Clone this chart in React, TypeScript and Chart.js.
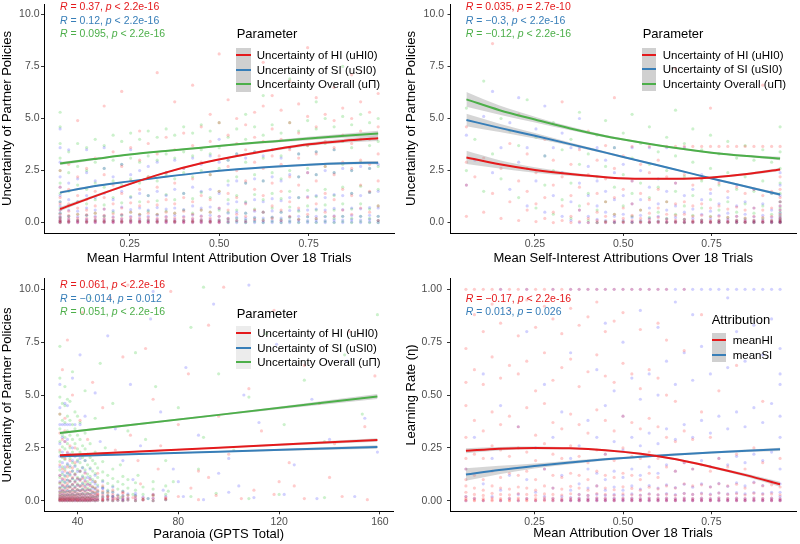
import React, { useEffect, useRef } from "react";
import { Chart, registerables } from "chart.js";
Chart.register(...registerables);

const FONT = '"Liberation Sans", Arial, Helvetica, sans-serif';
const RED = "#E41A1C";
const BLUE = "#377EB8";
const GREEN = "#4DAF4A";
const PT_RED = "rgba(255,0,0,0.2)";
const PT_BLUE = "rgba(0,0,255,0.18)";
const PT_GREEN = "rgba(0,185,0,0.2)";

// ---------- shared x columns (mean attribution over 18 trials) ----------
const attrCols = [0.056, 0.080, 0.105, 0.130, 0.154, 0.179, 0.204, 0.228, 0.253, 0.278, 0.302, 0.327, 0.352, 0.376, 0.401, 0.426, 0.450, 0.475, 0.500, 0.525, 0.549, 0.574, 0.599, 0.623, 0.648, 0.673, 0.697, 0.722, 0.747, 0.771, 0.796, 0.821, 0.845, 0.870, 0.895, 0.920, 0.944];
const fitX = [0.056, 0.15, 0.25, 0.35, 0.45, 0.55, 0.65, 0.75, 0.85, 0.944];

const paramLabels = ["Uncertainty of HI (uHI0)", "Uncertainty of SI (uSI0)", "Uncertainty Overall (uΠ)"];
const attrLabels = ["meanHI", "meanSI"];
const attrTicks = [0.25, 0.5, 0.75];
const attrTickLabels = ["0.25", "0.50", "0.75"];
const uncTicks = [0, 2.5, 5, 7.5, 10];
const uncTickLabels = ["0.0", "2.5", "5.0", "7.5", "10.0"];
const lrTicks = [0, 0.25, 0.5, 0.75, 1];
const lrTickLabels = ["0.00", "0.25", "0.50", "0.75", "1.00"];
const gptsTicks = [40, 80, 120, 160];
const gptsTickLabels = ["40", "80", "120", "160"];

// ---------- Panel 1: harmful intent ----------
const p1FitHI = [0.65, 1.25, 1.85, 2.4, 2.85, 3.2, 3.5, 3.76, 3.93, 4.05];
const p1FitSI = [1.44, 1.75, 1.98, 2.2, 2.4, 2.56, 2.68, 2.78, 2.85, 2.88];
const p1FitAll = [2.84, 3.05, 3.27, 3.44, 3.6, 3.76, 3.9, 4.04, 4.17, 4.28];
const p1SeHI = [0.1, 0.06, 0.05, 0.04, 0.04, 0.05, 0.06, 0.08, 0.1, 0.13];
const p1SeSI = [0.06, 0.04, 0.03, 0.03, 0.03, 0.03, 0.04, 0.05, 0.06, 0.08];
const p1SeAll = [0.07, 0.05, 0.04, 0.04, 0.04, 0.05, 0.06, 0.08, 0.1, 0.13];
const p1Stats = [["0.37", "< 2.2e-16"], ["0.12", "< 2.2e-16"], ["0.095", "< 2.2e-16"]];
const p1PtsHI = [
  [0, 0.04, 0.08, 0.15, 0.25, 0.4, 0.6, 0.9, 1.2, 1.7, 2.5],
  [0, 0.05, 0.1, 0.2, 0.35, 0.55, 0.9, 1.6, 2.8],
  [0, 0.05, 0.12, 0.22, 0.4, 0.7, 1.3, 2.2, 4.9],
  [0, 0.04, 0.1, 0.2, 0.38, 0.6, 1.1, 2.6],
  [0, 0.06, 0.12, 0.25, 0.45, 0.8, 1.5, 3.1],
  [0, 0.05, 0.1, 0.2, 0.35, 0.65, 1.2, 2.3, 5.6],
  [0, 0.04, 0.11, 0.24, 0.42, 0.9, 1.8, 3.4],
  [0, 0.05, 0.1, 0.2, 0.4, 0.7, 1.4, 2.7, 6.3],
  [0, 0.06, 0.13, 0.25, 0.5, 0.95, 2.0, 3.6],
  [0, 0.05, 0.1, 0.22, 0.4, 0.8, 1.6, 3.0, 4.4],
  [0, 0.04, 0.12, 0.24, 0.45, 1.0, 2.2, 3.8],
  [0, 0.05, 0.1, 0.2, 0.4, 0.85, 1.7, 3.3, 7.2],
  [0, 0.06, 0.12, 0.26, 0.5, 1.1, 2.4, 4.1],
  [0, 0.05, 0.1, 0.22, 0.45, 0.9, 1.9, 3.5, 5.8],
  [0, 0.04, 0.11, 0.25, 0.55, 1.2, 2.6, 4.3],
  [0, 0.05, 0.1, 0.2, 0.4, 1.0, 2.1, 3.7, 6.6],
  [0, 0.06, 0.14, 0.3, 0.6, 1.3, 2.9, 4.6],
  [0, 0.05, 0.1, 0.22, 0.5, 1.1, 2.3, 3.9, 5.2],
  [0, 0.04, 0.12, 0.3, 0.7, 1.5, 3.2, 4.8, 8.1],
  [0.05, 0.2, 0.6, 1.4, 2.7, 4.2, 5.9],
  [0.1, 0.4, 1.2, 2.5, 3.8, 5.0],
  [0.05, 0.3, 0.9, 2.0, 3.5, 4.7, 6.4],
  [0.15, 0.6, 1.6, 2.9, 4.1, 5.3],
  [0.1, 0.5, 1.3, 2.6, 3.9, 5.6, 7.7],
  [0.2, 0.8, 1.9, 3.2, 4.5, 6.1],
  [0.1, 0.6, 1.5, 2.8, 4.0, 5.4],
  [0.3, 1.0, 2.2, 3.5, 4.8, 6.8],
  [0.15, 0.7, 1.8, 3.1, 4.3, 5.7],
  [0.4, 1.2, 2.4, 3.7, 5.1, 8.4],
  [0.2, 0.9, 2.0, 3.3, 4.6, 6.0],
  [0.5, 1.4, 2.7, 3.9, 5.2],
  [0.3, 1.1, 2.3, 3.6, 4.9, 6.5],
  [0.6, 1.6, 2.9, 4.2, 5.5],
  [0.4, 1.3, 2.6, 3.8, 5.0, 7.1],
  [0.7, 1.8, 3.0, 4.4, 5.8],
  [0.5, 1.5, 2.8, 4.0, 5.3],
  [0.1, 0.8, 2.0, 3.3, 4.6, 6.2],
];
const p1PtsSI = [
  [0, 0.05, 0.1, 0.2, 0.3, 0.45, 0.6, 0.8, 1.0, 1.3, 1.7, 2.2, 2.9, 3.6, 4.5],
  [0, 0.06, 0.15, 0.3, 0.6, 1.1, 1.9, 3.5],
  [0, 0.05, 0.12, 0.28, 0.55, 1.0, 2.1],
  [0, 0.07, 0.16, 0.35, 0.7, 1.3, 2.4, 3.5],
  [0, 0.05, 0.14, 0.3, 0.6, 1.2, 2.0],
  [0, 0.06, 0.15, 0.32, 0.65, 1.4, 2.6, 3.6],
  [0, 0.05, 0.12, 0.28, 0.58, 1.1, 2.2],
  [0, 0.07, 0.17, 0.36, 0.75, 1.5, 2.8],
  [0, 0.05, 0.14, 0.3, 0.62, 1.2, 2.3, 3.5],
  [0, 0.06, 0.15, 0.33, 0.7, 1.4, 2.5],
  [0, 0.05, 0.13, 0.3, 0.6, 1.3, 2.7],
  [0, 0.07, 0.16, 0.35, 0.72, 1.5, 2.9],
  [0, 0.05, 0.14, 0.3, 0.65, 1.3, 2.4],
  [0, 0.06, 0.15, 0.34, 0.7, 1.6, 3.0],
  [0, 0.05, 0.12, 0.3, 0.62, 1.4, 2.6],
  [0, 0.07, 0.17, 0.36, 0.8, 1.7, 3.1],
  [0, 0.05, 0.14, 0.32, 0.7, 1.5, 2.8],
  [0, 0.06, 0.15, 0.35, 0.75, 1.6, 3.2],
  [0, 0.05, 0.13, 0.3, 0.68, 1.4, 2.9, 4.0],
  [0, 0.08, 0.2, 0.45, 0.9, 1.8, 3.0],
  [0, 0.1, 0.25, 0.5, 1.0, 2.0, 3.3],
  [0, 0.08, 0.2, 0.45, 0.95, 1.9, 3.1],
  [0, 0.1, 0.25, 0.55, 1.1, 2.1, 3.4],
  [0, 0.08, 0.22, 0.5, 1.0, 2.0, 3.2],
  [0, 0.1, 0.26, 0.56, 1.15, 2.2, 3.5],
  [0, 0.09, 0.22, 0.5, 1.05, 2.0, 3.1],
  [0, 0.1, 0.27, 0.58, 1.2, 2.3, 3.6],
  [0.02, 0.12, 0.3, 0.6, 1.2, 2.2, 3.3],
  [0, 0.1, 0.28, 0.6, 1.25, 2.4],
  [0.02, 0.12, 0.3, 0.65, 1.3, 2.3, 3.4],
  [0, 0.1, 0.28, 0.6, 1.2, 2.5],
  [0.02, 0.13, 0.32, 0.68, 1.35, 2.4, 3.5],
  [0, 0.12, 0.3, 0.62, 1.3, 2.6],
  [0.03, 0.14, 0.34, 0.7, 1.4, 2.5],
  [0, 0.12, 0.3, 0.66, 1.3, 2.7],
  [0.03, 0.15, 0.35, 0.72, 1.45, 2.6],
  [0, 0.1, 0.3, 0.7, 1.5, 2.8],
];
const p1PtsAll = [
  [0, 0.1, 0.25, 0.45, 0.7, 1.0, 1.4, 1.9, 2.5, 3.1, 3.8, 4.6, 5.3],
  [0.05, 0.3, 0.8, 1.5, 2.4, 3.4],
  [0.1, 0.4, 1.0, 1.8, 2.7, 3.8],
  [0.05, 0.35, 0.9, 1.6, 2.5, 3.6],
  [0.1, 0.45, 1.1, 1.9, 2.9, 4.0],
  [0.05, 0.3, 0.85, 1.7, 2.6, 3.7],
  [0.1, 0.5, 1.2, 2.0, 3.0, 4.2],
  [0.05, 0.35, 0.95, 1.8, 2.8, 3.9],
  [0.1, 0.5, 1.25, 2.1, 3.1, 4.3],
  [0.05, 0.4, 1.0, 1.9, 2.9, 4.0],
  [0.1, 0.55, 1.3, 2.2, 3.2, 4.4],
  [0.05, 0.4, 1.05, 2.0, 3.0, 4.1],
  [0.1, 0.55, 1.35, 2.3, 3.3, 4.5],
  [0.05, 0.45, 1.1, 2.1, 3.1, 4.2],
  [0.1, 0.6, 1.4, 2.4, 3.4, 4.6],
  [0.05, 0.45, 1.15, 2.2, 3.2, 4.3],
  [0.1, 0.6, 1.45, 2.5, 3.5, 4.7],
  [0.05, 0.5, 1.2, 2.3, 3.3, 4.4],
  [0.1, 0.6, 1.5, 2.6, 3.6, 4.8],
  [0, 0.15, 0.5, 1.1, 2.0, 3.0, 4.1],
  [0.05, 0.2, 0.6, 1.3, 2.2, 3.3, 4.5],
  [0, 0.12, 0.45, 1.0, 1.9, 2.9, 4.0, 5.2],
  [0.05, 0.22, 0.65, 1.35, 2.3, 3.4, 4.6],
  [0, 0.14, 0.5, 1.1, 2.0, 3.1, 4.2, 6.1],
  [0.05, 0.25, 0.7, 1.4, 2.4, 3.5, 4.7],
  [0, 0.15, 0.5, 1.15, 2.1, 3.2, 4.3],
  [0.05, 0.25, 0.75, 1.5, 2.5, 3.6, 4.8, 6.9],
  [0, 0.16, 0.55, 1.2, 2.2, 3.3, 4.4],
  [0.05, 0.28, 0.8, 1.55, 2.6, 3.7, 4.9],
  [0, 0.18, 0.6, 1.25, 2.3, 3.4, 4.5, 5.8],
  [0.05, 0.3, 0.85, 1.6, 2.7, 3.8, 5.0],
  [0, 0.2, 0.6, 1.3, 2.4, 3.5, 4.6],
  [0.05, 0.3, 0.9, 1.7, 2.8, 3.9, 5.1, 7.5],
  [0, 0.2, 0.65, 1.4, 2.5, 3.6, 4.7],
  [0.05, 0.3, 0.9, 1.75, 2.9, 4.0, 5.2],
  [0, 0.2, 0.65, 1.45, 2.6, 3.7, 4.8],
  [0, 0.1, 0.3, 0.8, 1.6, 2.7, 3.9, 5.0],
];

// ---------- Panel 2: self-interest ----------
const p2FitHI = [3.13, 2.8, 2.53, 2.33, 2.18, 2.1, 2.1, 2.17, 2.33, 2.55];
const p2FitSI = [4.93, 4.55, 4.17, 3.77, 3.36, 2.95, 2.54, 2.12, 1.72, 1.35];
const p2FitAll = [5.92, 5.4, 4.95, 4.52, 4.15, 3.85, 3.58, 3.36, 3.2, 3.08];
const p2SeHI = [0.32, 0.2, 0.13, 0.08, 0.05, 0.04, 0.04, 0.04, 0.05, 0.07];
const p2SeSI = [0.3, 0.2, 0.13, 0.08, 0.05, 0.04, 0.04, 0.04, 0.05, 0.07];
const p2SeAll = [0.35, 0.22, 0.14, 0.09, 0.06, 0.05, 0.04, 0.04, 0.05, 0.08];
const p2Stats = [["0.035", "= 2.7e-10"], ["−0.3", "< 2.2e-16"], ["−0.12", "< 2.2e-16"]];
const p2PtsHI = [
  [0.3, 1.8, 2.9, 4.6], [2.2], [0.5, 3.1], [1.4, 8.6], [0.2, 2.6],
  [1.0, 3.8], [0.1, 2.0, 5.2], [0.6, 1.5, 3.3], [0.05, 0.9, 2.4], [0.2, 1.2, 4.0],
  [0, 0.5, 1.8, 3.0], [0.1, 0.8, 2.2, 5.8], [0, 0.3, 1.3, 2.8], [0.05, 0.6, 1.7, 3.5], [0, 0.2, 0.9, 2.3, 4.4],
  [0, 0.1, 0.5, 1.4, 3.0], [0, 0.05, 0.3, 1.0, 2.1, 3.7], [0, 0.1, 0.4, 1.2, 2.6, 6.0], [0, 0.05, 0.2, 0.7, 1.6, 3.2], [0, 0.1, 0.35, 0.9, 2.0, 3.66],
  [0, 0.05, 0.2, 0.6, 1.4, 2.8], [0, 0.04, 0.15, 0.45, 1.1, 2.4, 3.66], [0, 0.06, 0.25, 0.7, 1.6, 3.0], [0, 0.05, 0.15, 0.4, 1.0, 2.2, 3.66], [0, 0.04, 0.12, 0.35, 0.9, 1.9, 3.66, 7.4],
  [0, 0.05, 0.15, 0.4, 1.0, 2.3, 3.66], [0, 0.04, 0.1, 0.3, 0.8, 1.8, 3.66], [0, 0.05, 0.12, 0.35, 0.9, 2.1, 3.66], [0, 0.03, 0.1, 0.28, 0.7, 1.6, 3.66, 5.5], [0, 0.05, 0.12, 0.3, 0.8, 1.9, 3.66],
  [0, 0.04, 0.1, 0.25, 0.65, 1.5, 3.66], [0, 0.05, 0.12, 0.3, 0.75, 1.7, 3.66], [0, 0.03, 0.1, 0.22, 0.6, 1.4, 3.66], [0, 0.05, 0.12, 0.3, 0.7, 1.6, 3.66], [0, 0.04, 0.1, 0.25, 0.6, 1.3, 3.66, 6.6],
  [0, 0.05, 0.12, 0.3, 0.7, 1.5, 3.66], [0, 0.03, 0.08, 0.15, 0.25, 0.4, 0.6, 0.8, 1.0, 1.2, 1.6, 2.2, 3.66],
];
const p2PtsSI = [
  [1.8, 4.2], [3.0], [5.1], [2.4, 6.3], [3.6],
  [1.6, 4.8], [2.9, 6.0], [0.8, 3.6], [2.0, 4.5], [0.5, 3.2, 5.6],
  [1.3, 3.6], [0.3, 2.4, 4.3], [0.1, 1.0, 3.6], [0, 0.6, 1.9, 3.6, 5.0], [0, 0.3, 1.3, 2.7],
  [0, 0.15, 0.8, 2.0, 3.6], [0, 0.1, 0.5, 1.5, 3.0], [0, 0.05, 0.3, 1.1, 2.4, 3.6], [0, 0.1, 0.4, 1.3, 2.8], [0, 0.05, 0.25, 0.9, 2.0, 3.6],
  [0, 0.1, 0.35, 1.1, 2.5], [0, 0.05, 0.2, 0.7, 1.7, 3.6], [0, 0.08, 0.3, 0.9, 2.1], [0, 0.05, 0.18, 0.6, 1.5, 3.6], [0, 0.07, 0.25, 0.8, 1.9],
  [0, 0.04, 0.15, 0.5, 1.3, 3.6], [0, 0.06, 0.2, 0.65, 1.6], [0, 0.04, 0.12, 0.4, 1.1, 2.3], [0, 0.05, 0.18, 0.55, 1.4], [0, 0.03, 0.1, 0.35, 0.9, 2.0],
  [0, 0.05, 0.15, 0.45, 1.2], [0, 0.03, 0.1, 0.3, 0.8, 1.8], [0, 0.04, 0.13, 0.4, 1.0], [0, 0.03, 0.09, 0.28, 0.7, 1.6], [0, 0.04, 0.12, 0.35, 0.9],
  [0, 0.03, 0.08, 0.25, 0.6, 1.4], [0, 0.02, 0.06, 0.12, 0.2, 0.3, 0.45, 0.6, 0.8, 1.0, 1.3, 1.8, 2.4],
];
const p2PtsAll = [
  [2.5, 5.5], [4.0], [1.5, 6.8], [3.3], [2.1, 5.0],
  [4.4], [1.2, 3.7], [2.6, 5.9], [0.7, 4.1], [1.8, 3.2],
  [0.4, 2.5, 4.8], [1.1, 3.5], [0.2, 1.9, 4.0], [0.8, 2.8, 5.3], [0.1, 1.4, 3.3],
  [0, 0.6, 2.2, 4.2], [0.05, 1.0, 2.7, 4.9], [0, 0.4, 1.7, 3.6], [0.05, 0.8, 2.3, 4.3], [0, 0.3, 1.4, 3.1, 5.2],
  [0.05, 0.6, 1.9, 3.8], [0, 0.25, 1.2, 2.8, 4.6], [0.05, 0.5, 1.7, 3.4], [0, 0.2, 1.0, 2.5, 4.1], [0.04, 0.4, 1.5, 3.2, 5.4],
  [0, 0.15, 0.8, 2.2, 3.8], [0.03, 0.35, 1.3, 2.9, 4.5], [0, 0.12, 0.7, 2.0, 3.5], [0.03, 0.3, 1.1, 2.6, 4.2], [0, 0.1, 0.6, 1.8, 3.3],
  [0.02, 0.25, 1.0, 2.4, 3.9], [0, 0.1, 0.5, 1.6, 3.1], [0.02, 0.2, 0.9, 2.2, 3.7], [0, 0.08, 0.45, 1.5, 3.0], [0.02, 0.2, 0.8, 2.0, 3.5],
  [0, 0.08, 0.4, 1.4, 2.9], [0, 0.04, 0.1, 0.2, 0.35, 0.5, 0.7, 1.0, 1.4, 1.9, 2.6, 3.4, 4.6],
];

// ---------- Panel 3: paranoia ----------
const p3FitX = [33, 96, 159];
const p3FitHI = [2.15, 2.51, 2.87];
const p3FitSI = [2.1, 2.32, 2.54];
const p3FitAll = [3.2, 4.06, 4.93];
const p3SeHI = [0.05, 0.03, 0.08];
const p3SeSI = [0.05, 0.03, 0.08];
const p3SeAll = [0.06, 0.04, 0.12];
const p3Stats = [["0.061", "< 2.2e-16"], ["−0.014", "= 0.012"], ["0.051", "< 2.2e-16"]];
const p3PtsHI = [
  [48, 0.3], [50, 0.05], [52, 0.2], [55, 0.1], [58, 0.4], [62, 0.15], [66, 0.05], [70, 0.3], [75, 0.1], [80, 0.2], [88, 0.05], [95, 0.25], [105, 0.1], [118, 0.3], [130, 0.1], [145, 0.2], [155, 0.05],
  [33, 4.1], [34, 6.2], [35, 3.3], [36, 7.6], [38, 5.0], [41, 3.8], [42, 8.9], [44, 2.9], [46, 5.6], [48, 1.3], [50, 4.4], [53, 9.6], [55, 2.4], [58, 6.8], [61, 3.1], [64, 1.9], [67, 7.2], [70, 4.8], [73, 2.6], [77, 9.9], [80, 3.6], [84, 6.0], [88, 1.4], [92, 8.3], [96, 4.0], [100, 2.2], [104, 7.0], [108, 5.3], [113, 3.3], [118, 9.0], [124, 1.8], [130, 6.4], [136, 4.6], [142, 2.7], [148, 8.0], [154, 3.5], [158, 5.9], [120, 0.9], [140, 1.1], [98, 10.1], [60, 10.2], [65, 0.8], [72, 1.5], [85, 0.6], [92, 1.1], [110, 0.5], [126, 0.7],
];
const p3PtsSI = [
  [50, 0.6], [54, 0.2], [58, 0.05], [63, 0.35], [68, 0.1], [74, 0.5], [82, 0.2], [90, 0.05], [100, 0.4], [110, 0.15], [122, 0.3], [135, 0.1], [150, 0.2],
  [36, 4.5], [38, 5.8], [41, 6.9], [43, 4.0], [47, 5.1], [49, 2.8], [52, 7.8], [55, 3.4], [58, 1.9], [61, 5.5], [65, 2.6], [69, 8.6], [73, 4.2], [78, 1.5], [83, 6.3], [88, 3.1], [94, 9.3], [100, 2.0], [106, 5.0], [112, 3.7], [119, 7.4], [126, 1.7], [133, 4.8], [140, 2.9], [147, 6.6], [154, 3.9], [159, 2.3], [108, 10.2], [70, 9.9], [62, 1.0], [80, 0.9], [96, 1.3], [104, 0.7],
];
const p3PtsAll = [
  [52, 0.4], [57, 0.15], [62, 0.3], [68, 0.1], [76, 0.45], [85, 0.2], [95, 0.35], [108, 0.1], [120, 0.3], [138, 0.15],
  [36, 4.8], [38, 6.1], [40, 4.0], [43, 5.2], [47, 3.9], [49, 6.5], [51, 2.5], [54, 4.6], [57, 1.7], [60, 3.3], [63, 7.0], [67, 2.9], [71, 5.4], [75, 1.9], [80, 4.4], [85, 8.2], [90, 3.0], [96, 6.0], [102, 2.4], [108, 4.9], [115, 7.9], [122, 3.6], [130, 5.7], [138, 2.8], [146, 6.9], [153, 4.1], [159, 8.8], [45, 9.6], [90, 10.1], [64, 1.2], [78, 0.9], [88, 1.5],
];
const p3ClusterCols = [33, 34, 35, 36, 37, 38, 39, 40, 41, 42, 43, 44, 45, 46, 47, 48, 50, 52, 54, 56, 58, 60, 63, 66, 70, 75];
const p3ClusterHI = [
  [0, 0.03, 0.07, 0.12, 0.2, 0.3, 0.42, 0.6, 0.85, 1.2, 1.7, 2.4, 3.2],
  [0, 0.04, 0.09, 0.15, 0.24, 0.36, 0.5, 0.75, 1.05, 1.5, 2.1, 2.9],
  [0, 0.03, 0.08, 0.14, 0.22, 0.33, 0.48, 0.7, 1.0, 1.4, 2.0, 2.8, 3.9],
  [0, 0.05, 0.1, 0.17, 0.27, 0.4, 0.58, 0.82, 1.15, 1.6, 2.3],
  [0, 0.03, 0.08, 0.13, 0.21, 0.32, 0.46, 0.66, 0.95, 1.35, 1.9, 2.6],
  [0, 0.04, 0.09, 0.16, 0.25, 0.38, 0.55, 0.78, 1.1, 1.55],
  [0, 0.05, 0.1, 0.18, 0.28, 0.42, 0.6, 0.88, 1.25, 1.8, 2.5],
  [0, 0.03, 0.08, 0.14, 0.23, 0.35, 0.52, 0.74, 1.05],
  [0, 0.04, 0.1, 0.18, 0.3, 0.45, 0.66, 0.95, 1.4],
  [0, 0.05, 0.12, 0.2, 0.32, 0.5, 0.72, 1.05],
  [0, 0.03, 0.09, 0.16, 0.27, 0.42, 0.62, 0.9, 1.3],
  [0, 0.05, 0.11, 0.2, 0.34, 0.52, 0.78],
  [0, 0.04, 0.1, 0.18, 0.3, 0.48, 0.7, 1.0],
  [0.02, 0.08, 0.16, 0.28, 0.44, 0.66],
  [0, 0.06, 0.14, 0.25, 0.4, 0.6, 0.9],
  [0.02, 0.08, 0.18, 0.32, 0.5],
  [0, 0.06, 0.15, 0.28, 0.45, 0.7],
  [0.03, 0.1, 0.2, 0.36],
  [0, 0.07, 0.16, 0.3, 0.5],
  [0.02, 0.1, 0.22],
  [0, 0.08, 0.18, 0.35],
  [0.03, 0.12, 0.26],
  [0, 0.09, 0.2],
  [0.04, 0.14],
  [0, 0.1, 0.24],
  [0.05, 0.15],
];
const p3ClusterSI = [
  [0, 0.06, 0.15, 0.28, 0.45, 0.65, 0.9, 1.2, 1.6, 2.1, 2.7, 3.6, 4.4, 5.5],
  [0, 0.08, 0.18, 0.32, 0.5, 0.72, 1.0, 1.35, 1.8, 2.3, 3.0, 3.6],
  [0, 0.05, 0.14, 0.26, 0.42, 0.62, 0.88, 1.2, 1.6, 2.1, 2.8, 3.6, 4.6],
  [0, 0.07, 0.17, 0.3, 0.48, 0.7, 0.98, 1.32, 1.75, 2.25, 2.9, 3.6],
  [0, 0.06, 0.15, 0.28, 0.44, 0.66, 0.92, 1.25, 1.65, 2.2, 3.6],
  [0, 0.08, 0.19, 0.33, 0.52, 0.76, 1.05, 1.4, 1.9, 2.5],
  [0, 0.05, 0.14, 0.27, 0.43, 0.64, 0.9, 1.22, 1.62, 2.1, 3.6],
  [0, 0.07, 0.17, 0.31, 0.5, 0.74, 1.02, 1.38, 1.85],
  [0, 0.06, 0.16, 0.3, 0.48, 0.7, 1.0, 1.4, 2.0, 3.6],
  [0, 0.08, 0.19, 0.34, 0.54, 0.8, 1.12, 1.55],
  [0, 0.05, 0.15, 0.28, 0.46, 0.68, 0.96, 1.35, 1.9],
  [0, 0.07, 0.18, 0.33, 0.52, 0.78, 1.1],
  [0, 0.06, 0.16, 0.3, 0.5, 0.74, 1.05, 1.5],
  [0.02, 0.1, 0.22, 0.38, 0.6, 0.9],
  [0, 0.07, 0.18, 0.33, 0.54, 0.8, 1.2],
  [0.02, 0.1, 0.24, 0.42, 0.66],
  [0, 0.08, 0.2, 0.36, 0.58, 0.9],
  [0.03, 0.12, 0.26, 0.46],
  [0, 0.09, 0.22, 0.4, 0.65],
  [0.02, 0.12, 0.28],
  [0, 0.1, 0.24, 0.44],
  [0.03, 0.14, 0.32],
  [0, 0.11, 0.26],
  [0.04, 0.17],
  [0, 0.12, 0.3],
  [0.05, 0.2],
];
const p3ClusterAll = [
  [0.02, 0.1, 0.22, 0.38, 0.58, 0.82, 1.1, 1.45, 1.85, 2.3, 2.8, 3.4, 4.1, 4.9, 5.8, 7.3],
  [0, 0.12, 0.26, 0.44, 0.66, 0.92, 1.25, 1.6, 2.05, 2.55, 3.1, 3.8, 4.6],
  [0.03, 0.1, 0.24, 0.4, 0.6, 0.86, 1.15, 1.5, 1.95, 2.45, 3.0, 3.7, 4.5, 5.4],
  [0, 0.13, 0.28, 0.46, 0.7, 0.98, 1.3, 1.7, 2.15, 2.7, 3.3, 4.0],
  [0.02, 0.11, 0.25, 0.42, 0.64, 0.9, 1.2, 1.58, 2.0, 2.5, 3.1, 3.8, 4.7],
  [0, 0.14, 0.3, 0.5, 0.75, 1.04, 1.4, 1.8, 2.3, 2.9, 3.6],
  [0.03, 0.12, 0.26, 0.44, 0.67, 0.95, 1.28, 1.68, 2.15, 2.7, 3.4, 4.2],
  [0, 0.15, 0.32, 0.53, 0.8, 1.1, 1.48, 1.92, 2.45, 3.1],
  [0.02, 0.13, 0.28, 0.48, 0.72, 1.02, 1.38, 1.8, 2.3, 2.9, 3.7],
  [0, 0.16, 0.34, 0.56, 0.84, 1.18, 1.58, 2.05, 2.6],
  [0.03, 0.14, 0.3, 0.5, 0.76, 1.08, 1.46, 1.9, 2.45, 3.2],
  [0, 0.17, 0.36, 0.6, 0.9, 1.26, 1.7, 2.2],
  [0.02, 0.15, 0.32, 0.54, 0.82, 1.15, 1.56, 2.05, 2.7],
  [0.04, 0.2, 0.4, 0.66, 1.0, 1.4, 1.9],
  [0, 0.17, 0.36, 0.6, 0.9, 1.28, 1.75, 2.3],
  [0.04, 0.22, 0.45, 0.74, 1.1, 1.55],
  [0, 0.18, 0.38, 0.64, 0.96, 1.36, 1.85],
  [0.05, 0.24, 0.5, 0.82, 1.2],
  [0, 0.2, 0.42, 0.7, 1.05, 1.5],
  [0.04, 0.26, 0.55, 0.9],
  [0, 0.22, 0.46, 0.78, 1.15],
  [0.05, 0.28, 0.6, 1.0],
  [0, 0.24, 0.5, 0.85],
  [0.06, 0.3, 0.65],
  [0, 0.26, 0.55, 0.9],
  [0.05, 0.3, 0.7],
];

// ---------- Panel 4: learning rate ----------
const p4FitHI = [0.236, 0.246, 0.25, 0.248, 0.239, 0.222, 0.196, 0.16, 0.12, 0.078];
const p4FitSI = [0.124, 0.145, 0.164, 0.181, 0.196, 0.208, 0.219, 0.228, 0.236, 0.243];
const p4SeHI = [0.012, 0.008, 0.006, 0.005, 0.005, 0.005, 0.005, 0.006, 0.008, 0.012];
const p4SeSI = [0.03, 0.02, 0.012, 0.008, 0.006, 0.005, 0.005, 0.005, 0.006, 0.008];
const p4Stats = [["−0.17", "< 2.2e-16"], ["0.013", "= 0.026"]];
const p4PtsHI = [
  [0, 0.004, 0.01, 0.02, 0.04, 0.07, 0.1, 0.15, 0.2, 0.3, 0.45, 0.56, 0.72, 1.0],
  [0, 0.004, 0.012, 0.03, 0.06, 0.12, 0.22, 0.38, 0.62, 0.88, 1.0],
  [0, 0.003, 0.01, 0.025, 0.05, 0.1, 0.2, 0.33, 0.55, 0.8, 1.0],
  [0, 0.005, 0.014, 0.035, 0.07, 0.14, 0.26, 0.42, 0.68, 0.93, 1.0],
  [0, 0.004, 0.01, 0.03, 0.06, 0.11, 0.24, 0.36, 0.58, 0.84, 1.0],
  [0, 0.003, 0.012, 0.028, 0.055, 0.13, 0.21, 0.4, 0.64, 0.9, 1.0],
  [0, 0.005, 0.013, 0.034, 0.065, 0.12, 0.25, 0.35, 0.6, 0.78, 1.0],
  [0, 0.004, 0.011, 0.03, 0.06, 0.14, 0.23, 0.44, 0.66, 0.95, 1.0],
  [0, 0.003, 0.01, 0.026, 0.05, 0.1, 0.19, 0.31, 0.52, 0.82, 1.0],
  [0, 0.005, 0.014, 0.032, 0.07, 0.15, 0.27, 0.46, 0.7, 0.92, 1.0],
  [0, 0.004, 0.012, 0.03, 0.06, 0.12, 0.22, 0.37, 0.57, 0.86, 1.0],
  [0, 0.003, 0.01, 0.027, 0.055, 0.11, 0.2, 0.34, 0.63, 0.79, 1.0],
  [0, 0.005, 0.013, 0.033, 0.068, 0.13, 0.26, 0.41, 0.67, 0.91, 1.0],
  [0, 0.004, 0.011, 0.029, 0.06, 0.12, 0.21, 0.36, 0.54, 0.83, 1.0],
  [0, 0.003, 0.01, 0.025, 0.05, 0.1, 0.18, 0.32, 0.61, 0.87, 1.0],
  [0, 0.005, 0.014, 0.034, 0.07, 0.14, 0.24, 0.43, 0.69, 0.94, 1.0],
  [0, 0.004, 0.012, 0.03, 0.06, 0.12, 0.22, 0.38, 0.59, 0.8, 1.0],
  [0, 0.003, 0.01, 0.026, 0.052, 0.11, 0.19, 0.33, 0.56, 0.85, 1.0],
  [0, 0.005, 0.013, 0.032, 0.066, 0.13, 0.25, 0.4, 0.65, 0.89, 1.0],
  [0, 0.004, 0.011, 0.028, 0.058, 0.12, 0.21, 0.37, 0.6, 1.0],
  [0, 0.003, 0.01, 0.025, 0.05, 0.1, 0.2, 0.34, 0.53, 0.81, 1.0],
  [0, 0.005, 0.013, 0.031, 0.064, 0.13, 0.23, 0.39, 0.62, 1.0],
  [0, 0.004, 0.011, 0.028, 0.056, 0.11, 0.2, 0.35, 0.58, 0.84, 1.0],
  [0, 0.004, 0.012, 0.03, 0.07, 0.16, 0.3, 0.5, 0.76, 1.0],
  [0, 0.003, 0.01, 0.026, 0.06, 0.14, 0.28, 0.47],
  [0, 0.005, 0.013, 0.034, 0.08, 0.18, 0.33, 0.71, 1.0],
  [0, 0.004, 0.011, 0.03, 0.07, 0.15, 0.29],
  [0, 0.004, 0.012, 0.032, 0.075, 0.17, 0.42, 0.88],
  [0, 0.003, 0.01, 0.028, 0.065, 0.14, 0.3],
  [0, 0.005, 0.014, 0.036, 0.08, 0.2, 0.52],
  [0, 0.004, 0.011, 0.03, 0.07, 0.16],
  [0, 0.004, 0.012, 0.033, 0.078, 0.22, 0.64],
  [0, 0.003, 0.01, 0.027, 0.06, 0.15],
  [0, 0.005, 0.013, 0.035, 0.085, 0.25],
  [0, 0.004, 0.011, 0.03, 0.07, 0.18, 0.47],
  [0, 0.004, 0.012, 0.032, 0.075],
  [0, 0.003, 0.01, 0.028, 0.065, 0.2],
];
const p4PtsSI = [
  [0, 0.02, 0.15], [0.01, 0.3], [0, 0.08, 0.6], [0.02, 0.2], [0, 0.05, 0.45, 1.0],
  [0.01, 0.12], [0, 0.03, 0.35], [0.01, 0.1, 0.8, 1.0], [0, 0.04, 0.25], [0.005, 0.02, 0.15, 0.55],
  [0, 0.01, 0.06, 0.3, 1.0], [0, 0.005, 0.02, 0.12, 0.42], [0, 0.004, 0.015, 0.05, 0.2, 0.7, 1.0],
  [0, 0.004, 0.012, 0.03, 0.08, 0.26, 1.0],
  [0, 0.003, 0.01, 0.025, 0.06, 0.15, 0.38, 1.0],
  [0, 0.004, 0.012, 0.03, 0.07, 0.13, 0.3, 0.62, 1.0],
  [0, 0.003, 0.01, 0.025, 0.05, 0.1, 0.22, 0.45, 0.84, 1.0],
  [0, 0.004, 0.012, 0.03, 0.065, 0.14, 0.28, 0.52, 1.0],
  [0, 0.003, 0.01, 0.026, 0.05, 0.11, 0.24, 0.4, 0.75, 1.0],
  [0, 0.004, 0.012, 0.032, 0.07, 0.15, 0.3, 0.58, 1.0],
  [0, 0.003, 0.01, 0.027, 0.055, 0.12, 0.26, 0.48, 0.9, 1.0],
  [0, 0.004, 0.013, 0.033, 0.072, 0.16, 0.32, 0.6, 1.0],
  [0, 0.003, 0.01, 0.028, 0.06, 0.13, 0.27, 0.5, 0.82, 1.0],
  [0, 0.004, 0.012, 0.034, 0.075, 0.17, 0.34, 0.66, 1.0],
  [0, 0.003, 0.01, 0.029, 0.062, 0.14, 0.29, 0.55, 0.94, 1.0],
  [0, 0.004, 0.013, 0.035, 0.078, 0.18, 0.36, 0.7, 1.0],
  [0, 0.003, 0.01, 0.03, 0.064, 0.15, 0.3, 0.57, 0.88, 1.0],
  [0, 0.004, 0.012, 0.036, 0.08, 0.19, 0.38, 0.73, 1.0],
  [0, 0.003, 0.01, 0.031, 0.066, 0.16, 0.32, 0.6, 1.0],
  [0, 0.004, 0.013, 0.037, 0.082, 0.2, 0.4, 0.77, 1.0],
  [0, 0.003, 0.01, 0.032, 0.068, 0.17, 0.34, 0.63, 0.96, 1.0],
  [0, 0.004, 0.012, 0.038, 0.085, 0.21, 0.42, 0.8, 1.0],
  [0, 0.003, 0.01, 0.033, 0.07, 0.18, 0.35, 0.66, 1.0],
  [0, 0.004, 0.013, 0.039, 0.088, 0.22, 0.44, 0.83, 1.0],
  [0, 0.003, 0.01, 0.034, 0.072, 0.19, 0.37, 0.69, 1.0],
  [0, 0.004, 0.012, 0.04, 0.09, 0.23, 0.46, 0.86, 1.0],
  [0, 0.003, 0.008, 0.02, 0.04, 0.08, 0.15, 0.3, 0.4, 0.55, 0.6, 0.72, 1.0],
];

type Pt = { x: number; y: number };
function colPoints(cols: number[], ys: number[][]): Pt[] {
  const out: Pt[] = [];
  ys.forEach((arr, i) => {
    if (cols[i] === undefined) return;
    arr.forEach((y) => out.push({ x: cols[i], y }));
  });
  return out;
}
function pairPoints(p: number[][]): Pt[] {
  return p.map(([x, y]) => ({ x, y }));
}

type Series = { color: string; ptColor: string; points: Pt[]; fitX: number[]; fit: number[]; se: number[] };
type PanelCfg = {
  area: { left: number; right: number; top: number; bottom: number };
  xMin: number; xMax: number; yMin: number; yMax: number;
  xTicks: number[]; xTickLabels: string[]; yTicks: number[]; yTickLabels: string[];
  xTitle: string; yTitle: string; xTitlePad: number; yTitlePad: number; yTickPad: number;
  series: Series[]; ptRadius: number;
};

function ChartPanel({ cfg }: { cfg: PanelCfg }) {
  const ref = useRef<HTMLCanvasElement | null>(null);
  useEffect(() => {
    if (!ref.current) return;
    const datasets: any[] = [];
    cfg.series.forEach((s) => {
      datasets.push({
        type: "scatter", showLine: true, data: s.fitX.map((x, i) => ({ x, y: s.fit[i] })),
        borderColor: s.color, borderWidth: 2, pointRadius: 0, fill: false,
        cubicInterpolationMode: "monotone", order: 0,
      });
    });
    cfg.series.forEach((s) => {
      const lowIdx = datasets.length;
      datasets.push({
        type: "scatter", showLine: true, data: s.fitX.map((x, i) => ({ x, y: s.fit[i] - s.se[i] })),
        borderWidth: 0, borderColor: "rgba(0,0,0,0)", pointRadius: 0, fill: false,
        cubicInterpolationMode: "monotone", order: 1,
      });
      datasets.push({
        type: "scatter", showLine: true, data: s.fitX.map((x, i) => ({ x, y: s.fit[i] + s.se[i] })),
        borderWidth: 0, borderColor: "rgba(0,0,0,0)", pointRadius: 0, fill: lowIdx,
        backgroundColor: "rgba(153,153,153,0.4)", cubicInterpolationMode: "monotone", order: 1,
      });
    });
    cfg.series.forEach((s) => {
      datasets.push({
        type: "scatter", data: s.points, pointRadius: cfg.ptRadius, pointBorderWidth: 0,
        pointBackgroundColor: s.ptColor, backgroundColor: s.ptColor, borderColor: "rgba(0,0,0,0)", order: 2,
      });
    });
    const tickFont = { family: FONT, size: 10.5 };
    const titleFont = { family: FONT, size: 13 };
    const chart = new Chart(ref.current, {
      type: "scatter",
      data: { datasets },
      options: {
        responsive: false,
        animation: false,
        events: [],
        layout: { padding: { left: 0, top: cfg.area.top, right: 400 - cfg.area.right, bottom: 0 } },
        plugins: { legend: { display: false }, tooltip: { enabled: false } },
        scales: {
          x: {
            type: "linear", min: cfg.xMin, max: cfg.xMax,
            afterBuildTicks: (s: any) => { s.ticks = cfg.xTicks.map((v) => ({ value: v })); },
            afterFit: (s: any) => { s.height = 272 - cfg.area.bottom; s.paddingLeft = 0; s.paddingRight = 0; },
            ticks: { autoSkip: false, maxRotation: 0, padding: 2, color: "#4d4d4d", font: tickFont, callback: (_v: any, i: number) => cfg.xTickLabels[i] },
            grid: { display: true, drawOnChartArea: false, drawTicks: true, tickLength: 3, color: "#333333", lineWidth: 1 },
            border: { display: true, color: "#000000", width: 1 },
            title: { display: true, text: cfg.xTitle, color: "#000000", font: titleFont, padding: { top: 0, bottom: cfg.xTitlePad } },
          },
          y: {
            type: "linear", min: cfg.yMin, max: cfg.yMax,
            afterBuildTicks: (s: any) => { s.ticks = cfg.yTicks.map((v) => ({ value: v })); },
            afterFit: (s: any) => { s.width = cfg.area.left; s.paddingTop = 0; s.paddingBottom = 0; },
            ticks: { autoSkip: false, padding: cfg.yTickPad, color: "#4d4d4d", font: tickFont, callback: (_v: any, i: number) => cfg.yTickLabels[i] },
            grid: { display: true, drawOnChartArea: false, drawTicks: true, tickLength: 3, color: "#333333", lineWidth: 1 },
            border: { display: true, color: "#000000", width: 1 },
            title: { display: true, text: cfg.yTitle, color: "#000000", font: titleFont, padding: { top: cfg.yTitlePad, bottom: 0 } },
          },
        },
      } as any,
    });
    return () => chart.destroy();
  }, [cfg]);
  return <canvas ref={ref} width={400} height={272} style={{ position: "absolute", left: 0, top: 0, width: 400, height: 272 }} />;
}

function Stats({ left, ys, stats, colors }: { left: number; ys: number[]; stats: string[][]; colors: string[] }) {
  return (
    <>
      {stats.map((s, i) => (
        <div key={i} style={{ position: "absolute", left, top: ys[i] - 7, height: 14, lineHeight: "14px", fontSize: 10.5, fontFamily: FONT, color: colors[i], whiteSpace: "nowrap" }}>
          <i>R</i> = {s[0]}, <i>p</i> {s[1]}
        </div>
      ))}
    </>
  );
}

function Legend({ title, titleX, titleY, keyX, textX, rows, labels, colors, keyBg }: any) {
  const top = rows[0] - 7.4;
  const h = rows[rows.length - 1] - rows[0] + 14.8;
  return (
    <>
      <div style={{ position: "absolute", left: titleX, top: titleY - 8, height: 16, lineHeight: "16px", fontSize: 13, fontFamily: FONT, color: "#000", whiteSpace: "nowrap" }}>{title}</div>
      <div style={{ position: "absolute", left: keyX, top, width: 14.5, height: h, background: keyBg }} />
      {rows.map((r: number, i: number) => (
        <React.Fragment key={i}>
          <div style={{ position: "absolute", left: keyX, top: r - 1, width: 14.5, height: 2, background: colors[i] }} />
          <div style={{ position: "absolute", left: textX, top: r - 7, height: 14, lineHeight: "14px", fontSize: 11.5, fontFamily: FONT, color: "#000", whiteSpace: "nowrap" }}>{labels[i]}</div>
        </React.Fragment>
      ))}
    </>
  );
}

const uncY = "Uncertainty of Partner Policies";

const panel1: PanelCfg = {
  area: { left: 44, right: 394.3, top: 1.15, bottom: 233 },
  xMin: 0.011, xMax: 0.989, yMin: -0.5, yMax: 10.5,
  xTicks: attrTicks, xTickLabels: attrTickLabels, yTicks: uncTicks, yTickLabels: uncTickLabels,
  xTitle: "Mean Harmful Intent Attribution Over 18 Trials", yTitle: uncY, xTitlePad: 6, yTitlePad: 0, yTickPad: 1.5,
  ptRadius: 1.6,
  series: [
    { color: RED, ptColor: PT_RED, points: colPoints(attrCols, p1PtsHI), fitX, fit: p1FitHI, se: p1SeHI },
    { color: BLUE, ptColor: PT_BLUE, points: colPoints(attrCols, p1PtsSI), fitX, fit: p1FitSI, se: p1SeSI },
    { color: GREEN, ptColor: PT_GREEN, points: colPoints(attrCols, p1PtsAll), fitX, fit: p1FitAll, se: p1SeAll },
  ],
};
const panel2: PanelCfg = {
  area: { left: 50.5, right: 398, top: 1.15, bottom: 233 },
  xMin: 0.011, xMax: 0.989, yMin: -0.5, yMax: 10.5,
  xTicks: attrTicks, xTickLabels: attrTickLabels, yTicks: uncTicks, yTickLabels: uncTickLabels,
  xTitle: "Mean Self-Interest Attributions Over 18 Trials", yTitle: uncY, xTitlePad: 6, yTitlePad: 4, yTickPad: 3.5,
  ptRadius: 1.6,
  series: [
    { color: RED, ptColor: PT_RED, points: colPoints(attrCols, p2PtsHI), fitX, fit: p2FitHI, se: p2SeHI },
    { color: BLUE, ptColor: PT_BLUE, points: colPoints(attrCols, p2PtsSI), fitX, fit: p2FitSI, se: p2SeSI },
    { color: GREEN, ptColor: PT_GREEN, points: colPoints(attrCols, p2PtsAll), fitX, fit: p2FitAll, se: p2SeAll },
  ],
};
const panel3: PanelCfg = {
  area: { left: 44, right: 393.3, top: 6.7, bottom: 239.3 },
  xMin: 26.7, xMax: 165.3, yMin: -0.5, yMax: 10.5,
  xTicks: gptsTicks, xTickLabels: gptsTickLabels, yTicks: uncTicks, yTickLabels: uncTickLabels,
  xTitle: "Paranoia (GPTS Total)", yTitle: uncY, xTitlePad: 2, yTitlePad: 0, yTickPad: 1.5,
  ptRadius: 1.6,
  series: [
    { color: RED, ptColor: PT_RED, points: [...pairPoints(p3PtsHI), ...colPoints(p3ClusterCols, p3ClusterHI)], fitX: p3FitX, fit: p3FitHI, se: p3SeHI },
    { color: BLUE, ptColor: PT_BLUE, points: [...pairPoints(p3PtsSI), ...colPoints(p3ClusterCols, p3ClusterSI)], fitX: p3FitX, fit: p3FitSI, se: p3SeSI },
    { color: GREEN, ptColor: PT_GREEN, points: [...pairPoints(p3PtsAll), ...colPoints(p3ClusterCols, p3ClusterAll)], fitX: p3FitX, fit: p3FitAll, se: p3SeAll },
  ],
};
const panel4: PanelCfg = {
  area: { left: 50, right: 398, top: 6.75, bottom: 239.3 },
  xMin: 0.011, xMax: 0.989, yMin: -0.05, yMax: 1.05,
  xTicks: attrTicks, xTickLabels: attrTickLabels, yTicks: lrTicks, yTickLabels: lrTickLabels,
  xTitle: "Mean Attribution Over 18 Trials", yTitle: "Learning Rate (η)", xTitlePad: 2.5, yTitlePad: 4, yTickPad: 5,
  ptRadius: 1.6,
  series: [
    { color: RED, ptColor: PT_RED, points: colPoints(attrCols, p4PtsHI), fitX, fit: p4FitHI, se: p4SeHI },
    { color: BLUE, ptColor: PT_BLUE, points: colPoints(attrCols, p4PtsSI), fitX, fit: p4FitSI, se: p4SeSI },
  ],
};

const panelBox = (left: number, top: number): React.CSSProperties => ({ position: "absolute", left, top, width: 400, height: 272, overflow: "hidden" });
const COLORS3 = [RED, BLUE, GREEN];

export default function App() {
  return (
    <div style={{ position: "absolute", left: 0, top: 0, width: 800, height: 544, background: "#ffffff", overflow: "hidden" }}>
      <div style={panelBox(0, 0)}>
        <ChartPanel cfg={panel1} />
        <Stats left={60} ys={[6, 19.7, 33.3]} stats={p1Stats} colors={COLORS3} />
        <Legend title="Parameter" titleX={236.7} titleY={34.3} keyX={236} textX={256.7} rows={[55, 69.7, 84.3]} labels={paramLabels} colors={COLORS3} keyBg="#d0d0d0" />
      </div>
      <div style={panelBox(400, 0)}>
        <ChartPanel cfg={panel2} />
        <Stats left={65.7} ys={[6, 19.7, 33.3]} stats={p2Stats} colors={COLORS3} />
        <Legend title="Parameter" titleX={242.7} titleY={34.3} keyX={241.7} textX={262.7} rows={[55, 69.2, 83.5]} labels={paramLabels} colors={COLORS3} keyBg="#d0d0d0" />
      </div>
      <div style={panelBox(0, 272)}>
        <ChartPanel cfg={panel3} />
        <Stats left={60} ys={[12.3, 25.8, 39.3]} stats={p3Stats} colors={COLORS3} />
        <Legend title="Parameter" titleX={236.7} titleY={41.7} keyX={236} textX={257.3} rows={[61, 75.5, 90]} labels={paramLabels} colors={COLORS3} keyBg="#ececec" />
      </div>
      <div style={panelBox(400, 272)}>
        <ChartPanel cfg={panel4} />
        <Stats left={65.7} ys={[26, 39]} stats={p4Stats} colors={[RED, BLUE]} />
        <Legend title="Attribution" titleX={311.7} titleY={48.3} keyX={311.7} textX={332.7} rows={[68.3, 82.7]} labels={attrLabels} colors={[RED, BLUE]} keyBg="#d0d0d0" />
      </div>
    </div>
  );
}
